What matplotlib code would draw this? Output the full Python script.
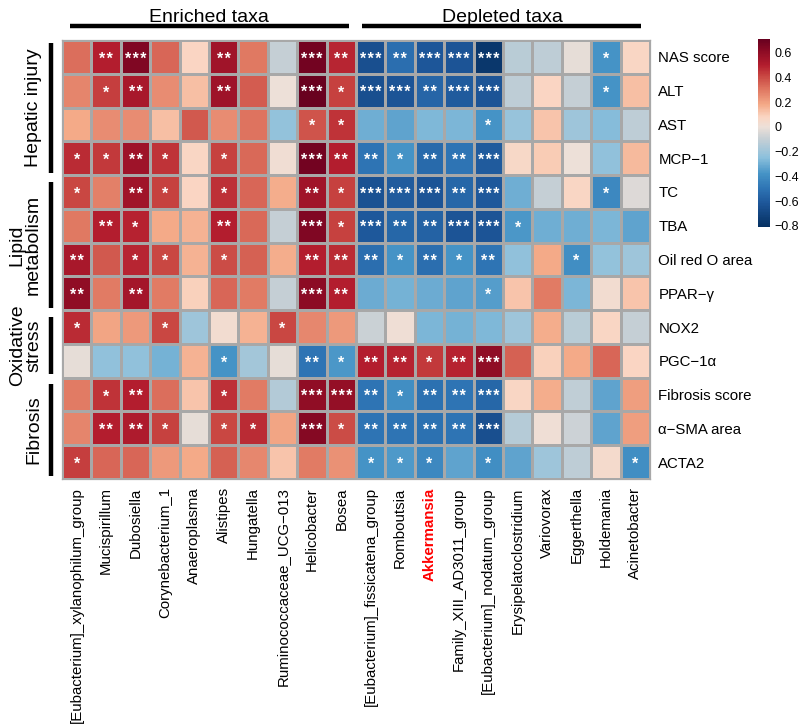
import matplotlib
matplotlib.use("Agg")
import numpy as np
import matplotlib.pyplot as plt
from matplotlib.colors import LinearSegmentedColormap, Normalize
from matplotlib.cm import ScalarMappable

plt.rcParams["font.family"] = ["Liberation Sans", "DejaVu Sans"]

# ── data ──────────────────────────────────────────────────────────────────
taxa = ["[Eubacterium]_xylanophilum_group", "Mucispirillum", "Dubosiella",
        "Corynebacterium_1", "Anaeroplasma", "Alistipes", "Hungatella",
        "Ruminococcaceae_UCG\u2212013", "Helicobacter", "Bosea",
        "[Eubacterium]_fissicatena_group", "Romboutsia", "Akkermansia",
        "Family_XIII_AD3011_group", "[Eubacterium]_nodatum_group",
        "Erysipelatoclostridium", "Variovorax", "Eggerthella", "Holdemania",
        "Acinetobacter"]
indices = ["NAS score", "ALT", "AST", "MCP\u22121", "TC", "TBA", "Oil red O area",
           "PPAR\u2212\u03b3", "NOX2", "PGC\u22121\u03b1", "Fibrosis score",
           "\u03b1\u2212SMA area", "ACTA2"]

r_nas  = [0.32, 0.50, 0.64, 0.34, 0.08, 0.55, 0.30, -0.10, 0.68, 0.48, -0.65, -0.52, -0.62, -0.63, -0.77, -0.13, -0.12, -0.02, -0.38, 0.07]
r_alt  = [0.27, 0.43, 0.53, 0.25, 0.13, 0.56, 0.36, 0.00, 0.70, 0.42, -0.65, -0.63, -0.56, -0.60, -0.63, -0.12, 0.08, -0.10, -0.38, 0.13]
r_ast  = [0.18, 0.25, 0.25, 0.13, 0.37, 0.25, 0.31, -0.23, 0.38, 0.45, -0.30, -0.33, -0.27, -0.28, -0.38, -0.22, 0.12, -0.20, -0.26, -0.12]
r_mcp  = [0.47, 0.44, 0.56, 0.45, 0.07, 0.42, 0.33, 0.02, 0.68, 0.50, -0.50, -0.38, -0.54, -0.50, -0.60, 0.06, 0.10, 0.00, -0.24, 0.14]
r_tc   = [0.41, 0.28, 0.55, 0.42, 0.08, 0.46, 0.34, 0.17, 0.55, 0.42, -0.64, -0.60, -0.63, -0.55, -0.61, -0.30, -0.10, 0.07, -0.42, -0.04]
r_tba  = [0.30, 0.50, 0.49, 0.18, 0.16, 0.50, 0.33, -0.10, 0.64, 0.42, -0.61, -0.55, -0.57, -0.63, -0.63, -0.37, -0.30, -0.30, -0.28, -0.33]
r_oil  = [0.53, 0.37, 0.48, 0.41, 0.16, 0.40, 0.35, 0.17, 0.50, 0.47, -0.52, -0.38, -0.52, -0.38, -0.50, -0.24, 0.18, -0.40, -0.23, -0.20]
r_ppar = [0.60, 0.29, 0.54, 0.29, 0.09, 0.34, 0.29, -0.10, 0.61, 0.50, -0.31, -0.29, -0.31, -0.33, -0.35, 0.12, 0.29, -0.28, 0.03, 0.12]
r_nox  = [0.47, 0.19, 0.22, 0.41, -0.20, 0.03, 0.16, 0.41, 0.26, 0.22, -0.09, 0.01, -0.28, -0.29, -0.27, -0.20, 0.17, -0.13, 0.07, -0.10]
r_pgc  = [-0.02, -0.24, -0.24, -0.29, 0.16, -0.38, -0.19, -0.02, -0.50, -0.37, 0.50, 0.49, 0.44, 0.49, 0.60, 0.35, 0.09, 0.18, 0.34, 0.08]
r_fib  = [0.29, 0.45, 0.50, 0.32, 0.12, 0.46, 0.29, -0.15, 0.60, 0.59, -0.50, -0.40, -0.51, -0.50, -0.55, 0.07, 0.17, -0.11, -0.33, 0.21]
r_sma  = [0.27, 0.50, 0.51, 0.42, -0.02, 0.41, 0.47, 0.19, 0.63, 0.40, -0.50, -0.50, -0.51, -0.50, -0.65, -0.14, 0.01, -0.08, -0.33, 0.21]
r_acta = [0.43, 0.34, 0.34, 0.22, 0.18, 0.35, 0.26, 0.12, 0.29, 0.24, -0.38, -0.36, -0.42, -0.33, -0.40, -0.33, -0.20, -0.12, 0.04, -0.40]

s_nas  = ["", "**", "***", "", "", "**", "", "", "***", "**", "***", "**", "***", "***", "***", "", "", "", "*", ""]
s_alt  = ["", "*", "**", "", "", "**", "", "", "***", "*", "***", "***", "**", "***", "***", "", "", "", "*", ""]
s_ast  = ["", "", "", "", "", "", "", "", "*", "*", "", "", "", "", "*", "", "", "", "", ""]
s_mcp  = ["*", "*", "**", "*", "", "*", "", "", "***", "**", "**", "*", "**", "**", "***", "", "", "", "", ""]
s_tc   = ["*", "", "**", "*", "", "*", "", "", "**", "*", "***", "***", "***", "**", "***", "", "", "", "*", ""]
s_tba  = ["", "**", "*", "", "", "**", "", "", "***", "*", "***", "**", "**", "***", "***", "*", "", "", "", ""]
s_oil  = ["**", "", "*", "*", "", "*", "", "", "**", "**", "**", "*", "**", "*", "**", "", "", "*", "", ""]
s_ppar = ["**", "", "**", "", "", "", "", "", "***", "**", "", "", "", "", "*", "", "", "", "", ""]
s_nox  = ["*", "", "", "*", "", "", "", "*", "", "", "", "", "", "", "", "", "", "", "", ""]
s_pgc  = ["", "", "", "", "", "*", "", "", "**", "*", "**", "**", "*", "**", "***", "", "", "", "", ""]
s_fib  = ["", "*", "**", "", "", "*", "", "", "***", "***", "**", "*", "**", "**", "***", "", "", "", "", ""]
s_sma  = ["", "**", "**", "*", "", "*", "*", "", "***", "*", "**", "**", "**", "**", "***", "", "", "", "", ""]
s_acta = ["*", "", "", "", "", "", "", "", "", "", "*", "*", "*", "", "*", "", "", "", "", "*"]

groups_top = ["Enriched taxa", "Depleted taxa"]
groups_left = ["Hepatic injury", "Lipid\nmetabolism", "Oxidative\nstress", "Fibrosis"]

vals = np.array([r_nas, r_alt, r_ast, r_mcp, r_tc, r_tba, r_oil, r_ppar,
                 r_nox, r_pgc, r_fib, r_sma, r_acta])
stars = [s_nas, s_alt, s_ast, s_mcp, s_tc, s_tba, s_oil, s_ppar,
         s_nox, s_pgc, s_fib, s_sma, s_acta]

# ── colour scale ──────────────────────────────────────────────────────────
vmin, vmax = -0.81, 0.71
anchors = [(-0.81, "#053061"), (-0.62, "#1D5699"), (-0.50, "#2E74B4"),
           (-0.38, "#4593C6"), (-0.25, "#8CC0DC"), (-0.10, "#C5CFD5"),
           (0.00, "#EDE0D8"), (0.08, "#FAD5C2"), (0.18, "#F4AA88"),
           (0.30, "#E07862"), (0.42, "#C74340"), (0.50, "#B31D2E"),
           (0.62, "#8A0A24"), (0.71, "#67001F")]
cmap = LinearSegmentedColormap.from_list(
    "rdbu_custom", [((v - vmin) / (vmax - vmin), c) for v, c in anchors])
norm = Normalize(vmin=vmin, vmax=vmax)

W, H = 800, 728
fig = plt.figure(figsize=(8, 7.28), dpi=100)
fig.patch.set_facecolor("white")

def fx(px):
    return px / W

def fy(py):
    return 1 - py / H

# ── heatmap ───────────────────────────────────────────────────────────────
left, right, top, bottom = 62, 650, 40, 479
ax = fig.add_axes([fx(left), fy(bottom), fx(right - left), (bottom - top) / H])
ax.pcolormesh(vals, cmap=cmap, norm=norm, edgecolors="#A8A8A8", linewidth=0.9)
ax.set_xlim(0, vals.shape[1])
ax.set_ylim(vals.shape[0], 0)
for sp in ax.spines.values():
    sp.set_color("#A8A8A8")
    sp.set_linewidth(0.9)

# significance stars, a hair space between them
for i, row in enumerate(stars):
    for j, s in enumerate(row):
        if s:
            ax.text(j + 0.5, i + 0.70, "\u200a".join(s), ha="center",
                    va="baseline", color="white", fontsize=11.5,
                    fontweight="bold")

ax.set_xticks(np.arange(len(taxa)) + 0.5)
ax.set_xticklabels(taxa, rotation=90, fontsize=10.8, va="top", ha="center")
for lbl in ax.get_xticklabels():
    if lbl.get_text() == "Akkermansia":
        lbl.set_color("#FF0000")
        lbl.set_fontweight("bold")
ax.yaxis.tick_right()
ax.set_yticks(np.arange(len(indices)) + 0.5)
ax.set_yticklabels(indices, fontsize=10.8)
ax.tick_params(length=0, pad=6)

# ── top group labels ──────────────────────────────────────────────────────
top_spans = [(70, 349, 209), (362, 641, 502)]
for lbl, (x0, x1, xc) in zip(groups_top, top_spans):
    fig.text(fx(xc), fy(17), lbl, ha="center", va="center", fontsize=14)
    fig.add_artist(plt.Line2D([fx(x0), fx(x1)], [fy(26), fy(26)],
                              color="black", lw=3.2, solid_capstyle="butt"))

# ── left group labels ─────────────────────────────────────────────────────
left_spans = [(43, 173), (182, 308), (317, 374), (384, 476)]
for lbl, (y0, y1) in zip(groups_left, left_spans):
    fig.add_artist(plt.Line2D([fx(51), fx(51)], [fy(y0), fy(y1)],
                              color="black", lw=3.2, solid_capstyle="butt"))
    fig.text(fx(42), fy((y0 + y1) / 2), lbl, rotation=90, ha="right",
             va="center", fontsize=14, multialignment="center",
             linespacing=0.95)

# ── colourbar ─────────────────────────────────────────────────────────────
cax = fig.add_axes([fx(758), fy(227), fx(12), (227 - 39) / H])
cb = fig.colorbar(ScalarMappable(norm=norm, cmap=cmap), cax=cax)
cb.outline.set_visible(False)
cticks = [0.6, 0.4, 0.2, 0.0, -0.2, -0.4, -0.6, -0.8]
cb.set_ticks(cticks)
cb.set_ticklabels(["0" if t == 0 else f"{t:.1f}".replace("-", "\u2212") for t in cticks])
cax.tick_params(length=0, pad=3, labelsize=9)

fig.savefig("out.png", dpi=100, facecolor="white")
